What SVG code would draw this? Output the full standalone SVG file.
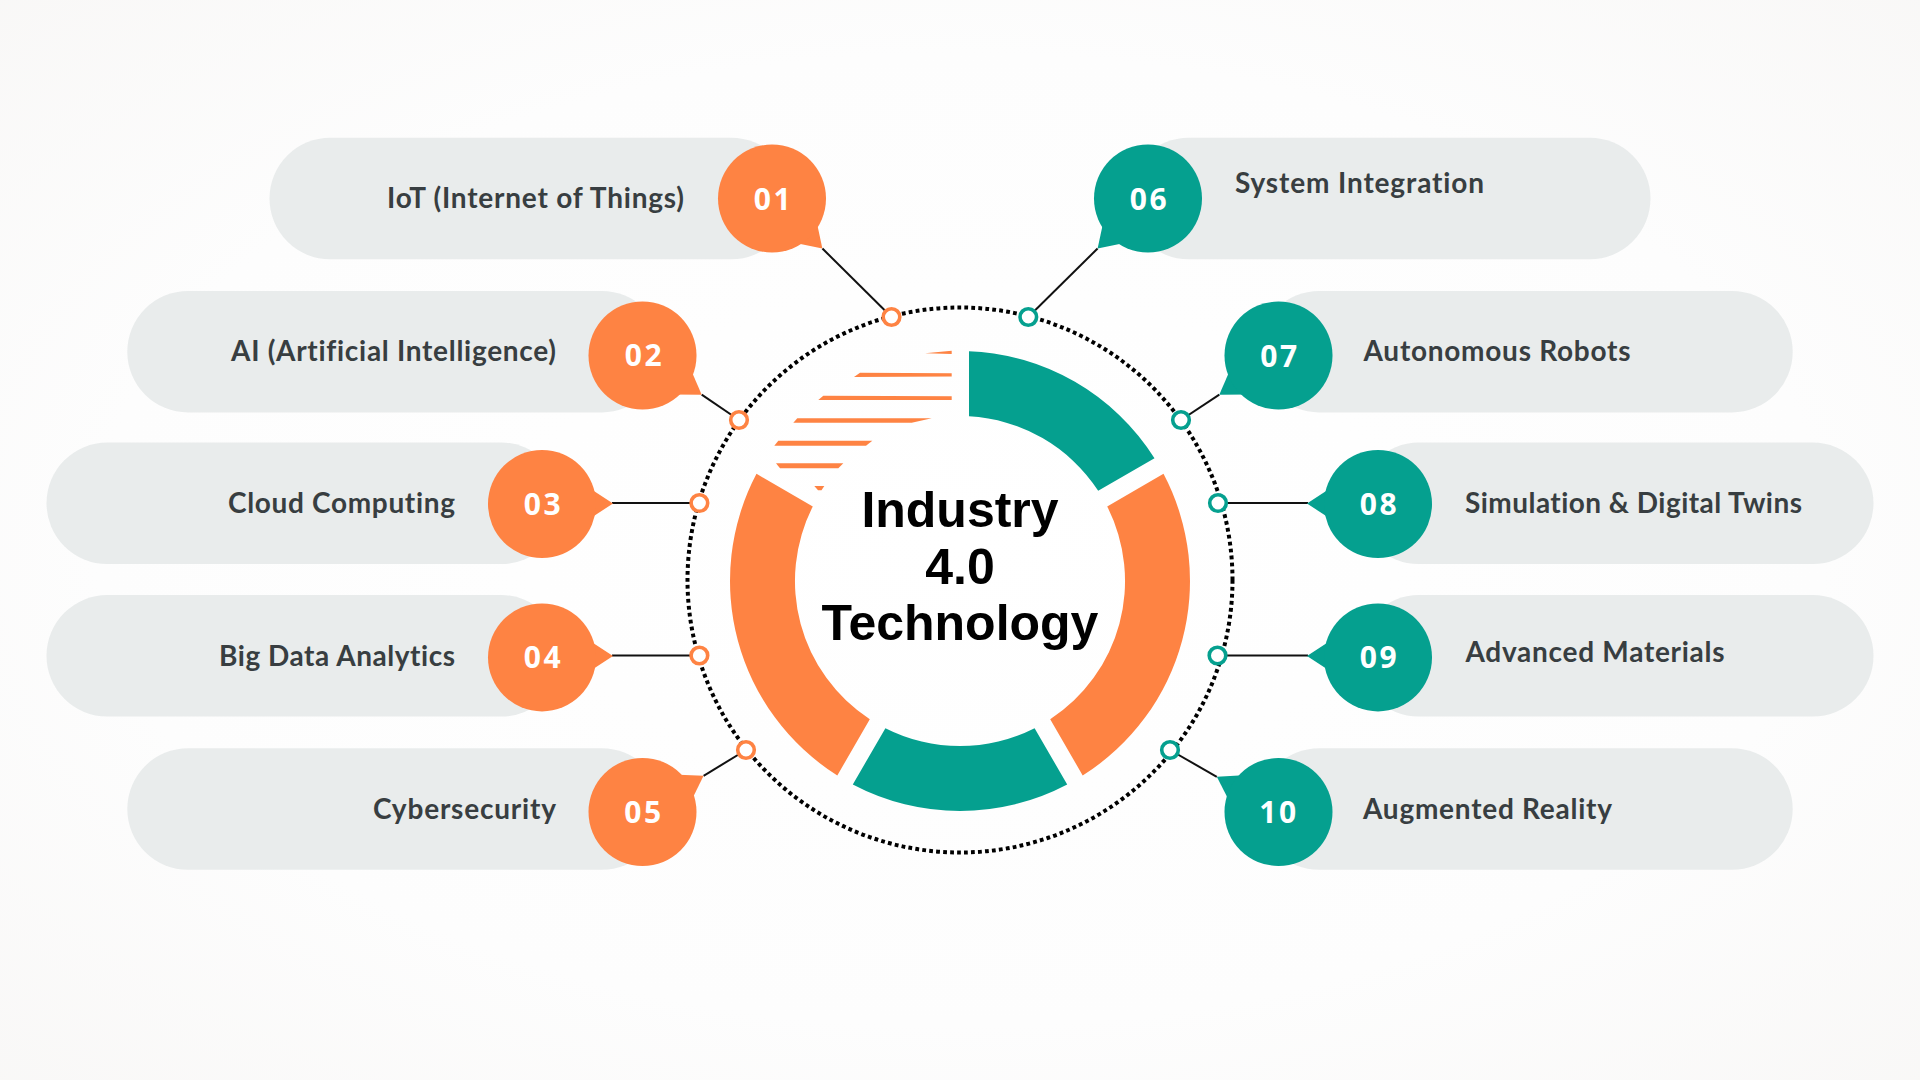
<svg xmlns="http://www.w3.org/2000/svg" width="1920" height="1080" viewBox="0 0 1920 1080">
<defs>
<radialGradient id="bg" cx="50%" cy="50%" r="75%">
<stop offset="0" stop-color="#ffffff"/>
<stop offset="0.6" stop-color="#fdfdfd"/>
<stop offset="1" stop-color="#f8f7f6"/>
</radialGradient>
<style>
.pill{fill:#e9ecec}
.or{fill:#fe8343}
.te{fill:#05a08f}
.num{font-family:"Open Sans",Lato,sans-serif;font-weight:700;font-size:30px;fill:#ffffff;text-anchor:middle;letter-spacing:2.5px}
.lbl{font-family:Lato,"Open Sans",sans-serif;font-weight:700;font-size:28px;fill:#383e41;font-variant-ligatures:none}
.lbl-l{text-anchor:end}
.lbl-r{text-anchor:start}
.hub{font-family:"Liberation Sans",Arial,sans-serif;font-weight:700;font-size:50px;fill:#000000;text-anchor:middle}
.conn{stroke:#111111;stroke-width:2;fill:none}
.dot-o{fill:#ffffff;stroke:#fe8343;stroke-width:3.6}
.dot-t{fill:#ffffff;stroke:#05a08f;stroke-width:3.6}
</style>
</defs>
<rect x="0" y="0" width="1920" height="1080" fill="url(#bg)"/>

<g id="hub">
<path class="te" d="M 969,351.2 A 230 230 0 0 1 1154.5,458.3 L 1098.2,490.8 A 165 165 0 0 0 969,416.3 Z"/>
<path class="or" d="M 1163.5,473.8 A 230 230 0 0 1 1082.7,775.5 L 1050.2,719.2 A 165 165 0 0 0 1107.2,506.4 Z"/>
<path class="te" d="M 1067.2,784.5 A 230 230 0 0 1 852.8,784.5 L 885.4,728.2 A 165 165 0 0 0 1034.6,728.2 Z"/>
<path class="or" d="M 837.3,775.5 A 230 230 0 0 1 756.5,473.8 L 812.8,506.4 A 165 165 0 0 0 869.8,719.2 Z"/>
<g class="or">
<polygon points="925,353.2 951.7,350.8 951.7,354"/>
<polygon points="860,372.7 951.7,373.2 951.7,376.4 854,377"/>
<polygon points="823.3,395.7 951.7,396.2 951.7,400 818.3,400"/>
<polygon points="797.3,418.3 931.7,418.3 911.7,422.7 793.3,422.7"/>
<polygon points="778.3,440.7 872.3,440.7 866,445.7 774.3,445.7"/>
<polygon points="776,463.3 843.3,463.3 838.3,468.3 780,468.3"/>
<polygon points="814.3,486 824.3,486 821.5,490.3 818,490.3"/>
</g>
<circle cx="960" cy="580" r="272.5" fill="none" stroke="#000000" stroke-width="4" stroke-dasharray="3.8 3.2"/>
<text class="hub" x="960" y="527">Industry</text>
<text class="hub" x="960" y="584">4.0</text>
<text class="hub" x="960" y="640">Technology</text>
</g>

<g id="connectors">
<line class="conn" x1="822.4" y1="248.5" x2="891.5" y2="317"/>
<line class="conn" x1="701.7" y1="394.7" x2="739" y2="420"/>
<line class="conn" x1="612" y1="503" x2="699.4" y2="503"/>
<line class="conn" x1="612" y1="655.5" x2="699.4" y2="655.5"/>
<line class="conn" x1="703.6" y1="775.8" x2="746" y2="750"/>
<line class="conn" x1="1097.6" y1="248.5" x2="1028.3" y2="317"/>
<line class="conn" x1="1219.3" y1="394.7" x2="1181" y2="420"/>
<line class="conn" x1="1308" y1="503" x2="1218" y2="503"/>
<line class="conn" x1="1308" y1="655.5" x2="1217.5" y2="655.5"/>
<line class="conn" x1="1216.8" y1="776.8" x2="1170" y2="750"/>
</g>

<g id="node-01">
<rect class="pill" x="269.5" y="137.7" width="522.5" height="121.6" rx="60.8"/>
<polygon class="or" points="45,-17 71,0 45,17" transform="translate(772,198.5) rotate(44.8)"/>
<circle class="or" cx="772" cy="198.5" r="54"/>
<text class="num" x="773.5" y="209.5">01</text>
<text class="lbl lbl-l" x="684" y="208.3" textLength="297">IoT (Internet of Things)</text>
<circle class="dot-o" cx="891.5" cy="317" r="8.3"/>
</g>

<g id="node-02">
<rect class="pill" x="127.3" y="290.9" width="535.2" height="121.6" rx="60.8"/>
<polygon class="or" points="45,-17 71,0 45,17" transform="translate(642.5,355.5) rotate(33.5)"/>
<circle class="or" cx="642.5" cy="355.5" r="54"/>
<text class="num" x="644.5" y="366">02</text>
<text class="lbl lbl-l" x="556" y="361" textLength="325">AI (Artificial Intelligence)</text>
<circle class="dot-o" cx="739" cy="420" r="8.3"/>
</g>

<g id="node-03">
<rect class="pill" x="46.5" y="442.5" width="515.5" height="121.6" rx="60.8"/>
<polygon class="or" points="45,-17 71,0 45,17" transform="translate(542,503.5) rotate(0)"/>
<circle class="or" cx="542" cy="504" r="54"/>
<text class="num" x="543.5" y="515">03</text>
<text class="lbl lbl-l" x="455" y="513" textLength="227">Cloud Computing</text>
<circle class="dot-o" cx="699.4" cy="503" r="8.3"/>
</g>

<g id="node-04">
<rect class="pill" x="46.5" y="595" width="515.5" height="121.6" rx="60.8"/>
<polygon class="or" points="45,-17 71,0 45,17" transform="translate(542,656) rotate(0)"/>
<circle class="or" cx="542" cy="657.4" r="54"/>
<text class="num" x="543.5" y="668.4">04</text>
<text class="lbl lbl-l" x="455" y="666" textLength="236">Big Data Analytics</text>
<circle class="dot-o" cx="699.4" cy="655.5" r="8.3"/>
</g>

<g id="node-05">
<rect class="pill" x="127.3" y="748.2" width="535.2" height="121.6" rx="60.8"/>
<polygon class="or" points="45,-17 71,0 45,17" transform="translate(642.5,812) rotate(-30.7)"/>
<circle class="or" cx="642.5" cy="812" r="54"/>
<text class="num" x="644" y="823">05</text>
<text class="lbl lbl-l" x="556" y="819" textLength="183">Cybersecurity</text>
<circle class="dot-o" cx="746" cy="750" r="8.3"/>
</g>

<g id="node-06">
<rect class="pill" x="1128" y="137.7" width="522.5" height="121.6" rx="60.8"/>
<polygon class="te" points="45,-17 71,0 45,17" transform="translate(1148,198.5) rotate(135.2)"/>
<circle class="te" cx="1148" cy="198.5" r="54"/>
<text class="num" x="1149.5" y="209.5">06</text>
<text class="lbl lbl-r" x="1235" y="193" textLength="249">System Integration</text>
<circle class="dot-t" cx="1028.3" cy="317" r="8.3"/>
</g>

<g id="node-07">
<rect class="pill" x="1258.5" y="290.9" width="534.2" height="121.6" rx="60.8"/>
<polygon class="te" points="45,-17 71,0 45,17" transform="translate(1278.5,355.5) rotate(146.5)"/>
<circle class="te" cx="1278.5" cy="355.5" r="54"/>
<text class="num" x="1280" y="366.5">07</text>
<text class="lbl lbl-r" x="1363.5" y="361" textLength="267">Autonomous Robots</text>
<circle class="dot-t" cx="1181" cy="420" r="8.3"/>
</g>

<g id="node-08">
<rect class="pill" x="1358" y="442.5" width="515.5" height="121.6" rx="60.8"/>
<polygon class="te" points="45,-17 71,0 45,17" transform="translate(1378,503.5) rotate(180)"/>
<circle class="te" cx="1378" cy="504" r="54"/>
<text class="num" x="1379.5" y="515">08</text>
<text class="lbl lbl-r" x="1465" y="513" textLength="337">Simulation &amp; Digital Twins</text>
<circle class="dot-t" cx="1218" cy="503" r="8.3"/>
</g>

<g id="node-09">
<rect class="pill" x="1358" y="595" width="515.5" height="121.6" rx="60.8"/>
<polygon class="te" points="45,-17 71,0 45,17" transform="translate(1378,656) rotate(180)"/>
<circle class="te" cx="1378" cy="657.4" r="54"/>
<text class="num" x="1379.5" y="668.4">09</text>
<text class="lbl lbl-r" x="1465.5" y="662" textLength="259">Advanced Materials</text>
<circle class="dot-t" cx="1217.5" cy="655.5" r="8.3"/>
</g>

<g id="node-10">
<rect class="pill" x="1258.5" y="748.2" width="534.2" height="121.6" rx="60.8"/>
<polygon class="te" points="45,-17 71,0 45,17" transform="translate(1278.5,812) rotate(209.7)"/>
<circle class="te" cx="1278.5" cy="812" r="54"/>
<text class="num" x="1279" y="823">10</text>
<text class="lbl lbl-r" x="1363" y="818.5" textLength="249">Augmented Reality</text>
<circle class="dot-t" cx="1170" cy="750" r="8.3"/>
</g>
</svg>
